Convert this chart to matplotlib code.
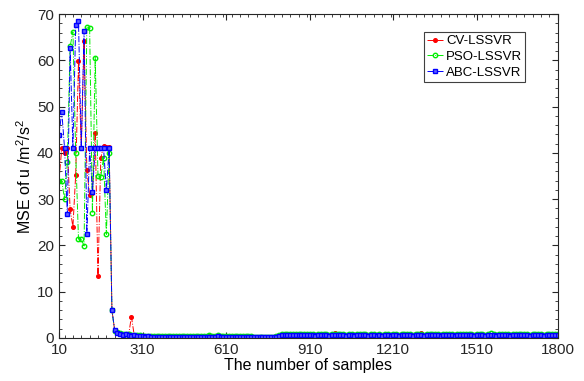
import numpy as np
import matplotlib.pyplot as plt
from matplotlib.ticker import MultipleLocator, FixedLocator

plt.rcParams['font.family'] = ['Liberation Sans', 'DejaVu Sans']
plt.rcParams['mathtext.fontset'] = 'custom'
plt.rcParams['mathtext.rm'] = 'Liberation Sans'

# number of samples: 10, 20, ..., 1800
samples = np.arange(10, 1801, 10)

# first 21 points (10..210)
cv_head = [34, 41, 40, 41, 27.8, 24.0, 35.3, 59.8, 41, 64.1, 36.3,
           30.9, 31.4, 44.4, 13.4, 38.9, 41.5, 41.3, 41.3, 6.0, 1.6]
pso_head = [34, 33.9, 30.0, 38, 63.0, 66.2, 40, 21.4, 21.3, 19.9, 67.3,
            67.0, 27.0, 60.6, 35, 34.8, 39, 22.4, 40.0, 6.0, 1.5]
abc_head = [43.8, 48.9, 41, 26.8, 62.7, 41, 67.7, 68.5, 41, 66.3, 22.4,
            41, 31.6, 41, 41, 41, 41, 32.0, 41, 6.0, 1.7]

# tail 220..1800
cv_tail = [1.1, 1.0, 0.9, 0.8, 0.7, 4.6, 0.6, 0.5, 0.6, 0.5,
           0.4, 0.4, 0.5, 0.3, 0.4, 0.4, 0.3, 0.4, 0.4, 0.3,
           0.4, 0.3, 0.4, 0.4, 0.3, 0.4, 0.4, 0.3, 0.4, 0.4,
           0.4, 0.3, 0.4, 0.5, 0.4, 0.4, 0.5, 0.4, 0.4, 0.3,
           0.4, 0.3, 0.4, 0.4, 0.3, 0.3, 0.4, 0.3, 0.3, 0.3,
           0.3, 0.3, 0.2, 0.2, 0.3, 0.2, 0.3, 0.4, 0.6, 0.7,
           0.7, 0.8, 0.7, 0.8, 0.7, 0.8, 0.8, 0.7, 0.8, 0.7,
           0.7, 0.6, 0.7, 0.8, 0.7, 0.7, 0.6, 0.7, 1.0, 0.8,
           0.7, 0.7, 0.6, 0.7, 0.7, 0.6, 0.7, 0.7, 0.8, 0.7,
           0.6, 0.7, 0.7, 0.6, 0.7, 0.5, 0.7, 0.7, 0.6, 0.7,
           0.7, 0.6, 0.7, 0.7, 0.8, 0.7, 0.6, 0.7, 0.7, 1.0,
           0.6, 0.7, 0.7, 0.8, 0.7, 0.7, 0.6, 0.7, 0.7, 0.7,
           0.7, 0.6, 0.7, 0.7, 0.7, 0.8, 0.7, 0.7, 0.6, 0.7,
           0.7, 0.7, 0.6, 0.7, 0.7, 0.7, 0.5, 0.7, 0.7, 0.7,
           0.7, 0.6, 0.7, 0.7, 0.7, 0.8, 0.7, 0.7, 0.6, 0.7,
           0.7, 0.7, 0.7, 0.6, 0.7, 0.7, 0.7, 0.7, 0.7]
pso_tail = [1.2, 1.0, 0.9, 0.9, 0.8, 0.7, 0.7, 0.6, 0.6, 0.5,
            0.5, 0.5, 0.4, 0.5, 0.4, 0.5, 0.4, 0.4, 0.5, 0.4,
            0.4, 0.4, 0.5, 0.4, 0.4, 0.5, 0.4, 0.4, 0.4, 0.5,
            0.5, 0.4, 0.5, 0.6, 0.5, 0.5, 0.6, 0.5, 0.5, 0.4,
            0.4, 0.4, 0.5, 0.4, 0.4, 0.4, 0.4, 0.4, 0.4, 0.3,
            0.3, 0.3, 0.3, 0.3, 0.3, 0.3, 0.3, 0.4, 0.7, 0.8,
            0.8, 0.8, 0.9, 0.8, 0.8, 0.9, 0.8, 0.8, 0.8, 0.8,
            0.8, 0.7, 0.8, 0.8, 0.8, 0.8, 0.7, 0.8, 0.8, 0.8,
            0.8, 0.8, 0.7, 0.8, 0.8, 0.7, 0.8, 0.8, 0.9, 0.8,
            0.7, 0.8, 0.8, 0.7, 0.8, 0.7, 0.8, 0.8, 0.7, 0.8,
            0.8, 0.7, 0.8, 0.8, 0.8, 0.8, 0.7, 0.8, 0.8, 0.8,
            0.7, 0.8, 0.8, 0.9, 0.8, 0.8, 0.7, 0.8, 0.8, 0.8,
            0.8, 0.7, 0.8, 0.8, 0.8, 0.8, 0.8, 0.8, 0.7, 0.8,
            0.8, 0.8, 0.7, 0.8, 1.0, 0.8, 0.7, 0.8, 0.8, 0.8,
            0.8, 0.7, 0.8, 0.8, 0.8, 0.8, 0.8, 0.8, 0.7, 0.8,
            0.8, 0.8, 0.8, 0.7, 0.8, 0.8, 0.8, 0.8, 0.8]
abc_tail = [1.0, 0.9, 0.7, 0.8, 0.6, 0.5, 0.6, 0.4, 0.5, 0.4,
            0.3, 0.4, 0.3, 0.3, 0.2, 0.3, 0.3, 0.2, 0.3, 0.3,
            0.3, 0.2, 0.3, 0.3, 0.3, 0.2, 0.3, 0.3, 0.2, 0.3,
            0.3, 0.3, 0.2, 0.3, 0.3, 0.3, 0.4, 0.3, 0.3, 0.3,
            0.3, 0.2, 0.3, 0.3, 0.3, 0.2, 0.2, 0.3, 0.3, 0.2,
            0.2, 0.2, 0.2, 0.1, 0.2, 0.1, 0.2, 0.3, 0.5, 0.6,
            0.6, 0.7, 0.6, 0.7, 0.6, 0.7, 0.7, 0.6, 0.7, 0.6,
            0.6, 0.5, 0.6, 0.7, 0.6, 0.6, 0.5, 0.6, 0.6, 0.7,
            0.6, 0.6, 0.5, 0.6, 0.6, 0.5, 0.6, 0.6, 0.7, 0.6,
            0.5, 0.6, 0.6, 0.5, 0.6, 0.4, 0.6, 0.6, 0.5, 0.6,
            0.6, 0.5, 0.6, 0.6, 0.7, 0.6, 0.5, 0.6, 0.6, 0.6,
            0.5, 0.6, 0.6, 0.7, 0.6, 0.6, 0.5, 0.6, 0.6, 0.6,
            0.6, 0.5, 0.6, 0.6, 0.6, 0.7, 0.6, 0.6, 0.5, 0.6,
            0.6, 0.6, 0.5, 0.6, 0.6, 0.6, 0.4, 0.6, 0.6, 0.6,
            0.6, 0.5, 0.6, 0.6, 0.6, 0.7, 0.6, 0.6, 0.5, 0.6,
            0.6, 0.6, 0.6, 0.5, 0.6, 0.6, 0.6, 0.6, 0.6]

cv = cv_head + cv_tail
pso = pso_head + pso_tail
abc = abc_head + abc_tail

xticks = [10, 310, 610, 910, 1210, 1510, 1800]

fig = plt.figure(figsize=(5.84, 3.81), dpi=100)
ax = fig.add_axes([0.101, 0.113, 0.854, 0.85])

ax.plot(samples, cv, color='red', ls='-.', lw=0.7, marker='o', ms=2.6,
        mfc='red', mec='red', label='CV-LSSVR')
ax.plot(samples, pso, color='#00ee00', ls='-.', lw=0.7, marker='o', ms=3.2,
        mfc='none', mec='#00ee00', label='PSO-LSSVR')
ax.plot(samples, abc, color='blue', ls='-.', lw=0.7, marker='s', ms=2.6,
        mfc='#6060ff', mec='blue', label='ABC-LSSVR')

ax.set_xlim(10, 1800)
ax.set_ylim(0, 70)
ax.xaxis.set_major_locator(FixedLocator(xticks))
ax.xaxis.set_minor_locator(MultipleLocator(30))
ax.yaxis.set_major_locator(MultipleLocator(10))
ax.yaxis.set_minor_locator(MultipleLocator(2))
ax.tick_params(which='both', direction='in', top=True, right=True,
               labelsize=11, colors='#262626')
ax.tick_params(which='major', length=4)
ax.tick_params(which='minor', length=2)
for s in ax.spines.values():
    s.set_color('#262626')
    s.set_linewidth(0.8)

ax.set_xlabel('The number of samples', fontsize=11.5, labelpad=1)
ax.set_ylabel('MSE of u /m$^2$/s$^2$', fontsize=11.5, labelpad=2)

leg = ax.legend(loc='upper right', bbox_to_anchor=(0.935, 0.945), fontsize=9.5,
                handlelength=1.2, handletextpad=0.2, borderpad=0.25,
                labelspacing=0.25, borderaxespad=0, fancybox=False,
                framealpha=1)
leg.get_frame().set_edgecolor('#404040')
leg.get_frame().set_linewidth(0.8)

fig.savefig('out.png', dpi=100)
